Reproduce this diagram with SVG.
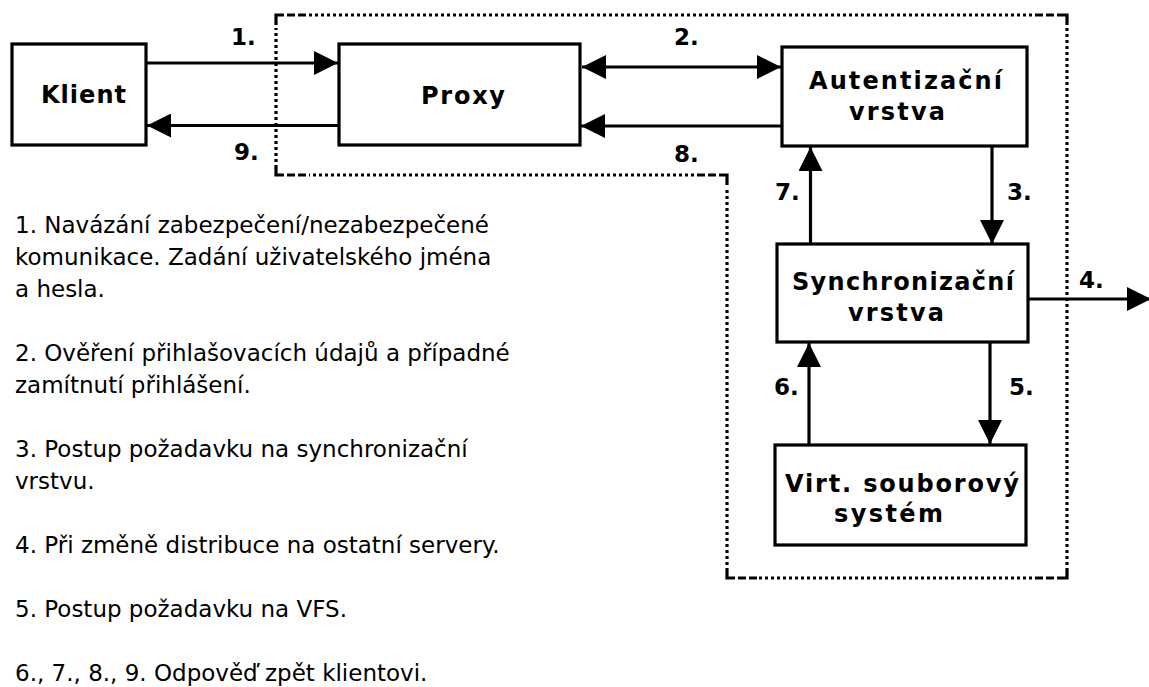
<svg xmlns="http://www.w3.org/2000/svg" width="1149" height="687" viewBox="0 0 1149 687">
  <style>
    .box { fill: #fff; stroke: #000; stroke-width: 3.2; }
    .lbl { font-family: "DejaVu Sans", "Liberation Sans", sans-serif; font-weight: bold; font-size: 24px; fill: #000; }
    .num { font-family: "DejaVu Sans", "Liberation Sans", sans-serif; font-weight: bold; font-size: 23px; fill: #000; }
    .note { font-family: "DejaVu Sans", "Liberation Sans", sans-serif; font-size: 23px; fill: #000; }
    .wire { fill: none; stroke: #000; stroke-width: 3.2; }
    .dots { fill: none; stroke: #000; stroke-width: 3.2; stroke-dasharray: 3 3; }
    .dash { fill: none; stroke: #000; stroke-width: 3.2; stroke-linejoin: miter; }
  </style>
  <defs>
    <marker id="head" viewBox="0 0 24 24" refX="24" refY="12" markerWidth="24" markerHeight="24" markerUnits="userSpaceOnUse" orient="auto-start-reverse">
      <path d="M0,0 L24,12 L0,24 Z" fill="#000"/>
    </marker>
  </defs>

  <rect width="1149" height="687" fill="#fff"/>

  <!-- server boundary: dotted sides with short dashes at every corner -->
  <g id="server-boundary">
    <path class="dash" d="M284,15 H276 V25 M287,15 H295 M298,15 H306"/>
    <path class="dots" d="M309,15 H1032"/>
    <path class="dash" d="M1035,15 H1043 M1046,15 H1054 M1057,15 H1067 V25"/>
    <path class="dots" d="M1067,28 V566"/>
    <path class="dash" d="M1067,568 V578 H1057 M1054,578 H1046 M1043,578 H1035"/>
    <path class="dots" d="M1032,578 H759"/>
    <path class="dash" d="M757,578 H749 M746,578 H738 M735,578 H727 V568"/>
    <path class="dots" d="M727,565 V188"/>
    <path class="dash" d="M727,185 V175 H719 M716,175 H708 M705,175 H697"/>
    <path class="dots" d="M694,175 H309"/>
    <path class="dash" d="M306,175 H298 M295,175 H287 M284,175 H276 V165"/>
    <path class="dots" d="M276,162 V28"/>
  </g>

  <g id="connectors">
    <line class="wire" x1="146" y1="63" x2="338" y2="63" marker-end="url(#head)"/>
    <line class="wire" x1="339" y1="125.5" x2="147" y2="125.5" marker-end="url(#head)"/>
    <line class="wire" x1="582" y1="67" x2="781" y2="67" marker-start="url(#head)" marker-end="url(#head)"/>
    <line class="wire" x1="782" y1="126" x2="581" y2="126" marker-end="url(#head)"/>
    <line class="wire" x1="810.5" y1="244" x2="810.5" y2="147" marker-end="url(#head)"/>
    <line class="wire" x1="992" y1="146" x2="992" y2="244" marker-end="url(#head)"/>
    <line class="wire" x1="1028" y1="299" x2="1151" y2="299" marker-end="url(#head)"/>
    <line class="wire" x1="809" y1="445" x2="809" y2="343" marker-end="url(#head)"/>
    <line class="wire" x1="990" y1="342" x2="990" y2="444" marker-end="url(#head)"/>
  </g>

  <g id="step-labels">
    <text class="num" x="231" y="45">1.</text>
    <text class="num" x="234" y="160">9.</text>
    <text class="num" x="674" y="45">2.</text>
    <text class="num" x="674" y="162">8.</text>
    <text class="num" x="775" y="200">7.</text>
    <text class="num" x="1007" y="200">3.</text>
    <text class="num" x="1079" y="288">4.</text>
    <text class="num" x="1009" y="395">5.</text>
    <text class="num" x="774" y="395">6.</text>
  </g>

  <g id="klient">
    <rect class="box" x="12" y="44" width="134" height="101"/>
    <text class="lbl" x="41" y="103" textLength="85" lengthAdjust="spacing">Klient</text>
  </g>

  <g id="proxy">
    <rect class="box" x="339" y="44" width="241" height="101"/>
    <text class="lbl" x="421" y="104" textLength="84" lengthAdjust="spacing">Proxy</text>
  </g>

  <g id="autentizacni-vrstva">
    <rect class="box" x="782" y="47" width="245" height="99"/>
    <text class="lbl" x="809" y="88.5" textLength="193" lengthAdjust="spacing">Autentizační</text>
    <text class="lbl" x="849" y="120" textLength="96" lengthAdjust="spacing">vrstva</text>
  </g>

  <g id="synchronizacni-vrstva">
    <rect class="box" x="777" y="244" width="251" height="98"/>
    <text class="lbl" x="792" y="289.5" textLength="222" lengthAdjust="spacing">Synchronizační</text>
    <text class="lbl" x="848" y="321" textLength="96" lengthAdjust="spacing">vrstva</text>
  </g>

  <g id="virt-souborovy-system">
    <rect class="box" x="775" y="445" width="251" height="100"/>
    <text class="lbl" x="785" y="492" textLength="234" lengthAdjust="spacing">Virt. souborový</text>
    <text class="lbl" x="834" y="522" textLength="109" lengthAdjust="spacing">systém</text>
  </g>

  <g id="legend">
    <text class="note" x="15" y="233">1. Navázání zabezpečení/nezabezpečené</text>
    <text class="note" x="15" y="265">komunikace. Zadání uživatelského jména</text>
    <text class="note" x="15" y="297">a hesla.</text>
    <text class="note" x="15" y="361">2. Ověření přihlašovacích údajů a případné</text>
    <text class="note" x="15" y="393">zamítnutí přihlášení.</text>
    <text class="note" x="15" y="457">3. Postup požadavku na synchronizační</text>
    <text class="note" x="15" y="489">vrstvu.</text>
    <text class="note" x="15" y="553">4. Při změně distribuce na ostatní servery.</text>
    <text class="note" x="15" y="617">5. Postup požadavku na VFS.</text>
    <text class="note" x="15" y="681">6., 7., 8., 9. Odpověď zpět klientovi.</text>
  </g>
</svg>
